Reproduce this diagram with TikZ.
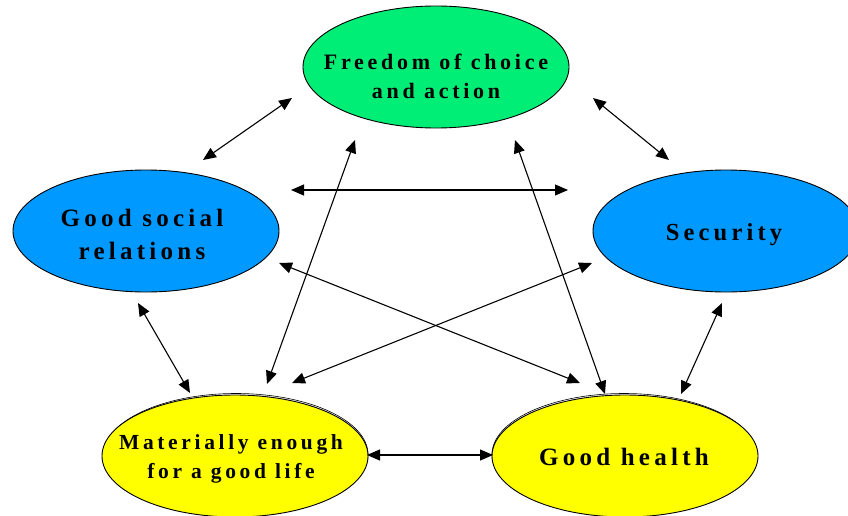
\documentclass[tikz,border=0pt]{standalone}
\usepackage{fontspec}
\setmainfont{Liberation Serif}
\newfontfamily\lblfont[LetterSpace=17,Ligatures=NoCommon]{Liberation Serif}
\usetikzlibrary{shapes.geometric,arrows.meta}
\definecolor{fgreen}{RGB}{0,238,118}
\definecolor{sblue}{RGB}{0,153,255}
\definecolor{myyellow}{RGB}{255,255,0}
\begin{document}
\begin{tikzpicture}[x=1pt,y=-1pt,
  oval/.style={ellipse, draw=black, line width=0.9pt, minimum width=266pt, minimum height=122pt, inner sep=0pt},
  lbl/.style={align=center, inner sep=0pt},
  arr/.style={{Triangle[length=13pt,width=11pt]}-{Triangle[length=13pt,width=11pt]}, line width=1.1pt, draw=black}]
\useasboundingbox (0,0) rectangle (848,516);

% faint second outlines behind the yellow ellipses
\node[oval, line width=0.6pt, minimum width=264pt] (Mb) at (236,454.5) {};
\node[oval, line width=0.6pt, minimum width=264pt] (Hb) at (624,454.5) {};

% ellipses
\node[oval, fill=fgreen]   (F)   at (436,67)  {};
\node[oval, fill=sblue]    (S)   at (146,231) {};
\node[oval, fill=sblue]    (Sec) at (726,231) {};
\node[oval, fill=myyellow] (M)   at (235,456) {};
\node[oval, fill=myyellow] (H)   at (625,456) {};

% labels
\node[lbl, font={\lblfont\bfseries\fontsize{22}{29}\selectfont}] (Ft) at ([shift={(0,9)}]F.center) {Freedom of choice\\and action};
\node[lbl, font={\lblfont\bfseries\fontsize{25}{33}\selectfont}] (St) at ([shift={(-4,3)}]S.center) {Good social\\relations};
\node[lbl, font={\lblfont\bfseries\fontsize{24.5}{30}\selectfont}] (Sect) at ([shift={(-2,4)}]Sec.center) {Security};
\node[lbl, font={\lblfont\bfseries\fontsize{21.5}{29}\selectfont}] (Mt) at ([shift={(-4,2.5)}]M.center) {Materially enough\\for a good life};
\node[lbl, font={\lblfont\bfseries\fontsize{25}{30}\selectfont}] (Ht) at ([shift={(-1,1)}]H.center) {Good health};

% connectors
\draw[arr] ([shift={(57,-71)}]S.center)    -- ([shift={(-144,31)}]F.center);
\draw[arr] ([shift={(157,31)}]F.center)    -- ([shift={(-57,-71)}]Sec.center);
\draw[arr] ([shift={(145,-41)}]S.center)   -- ([shift={(-158,-41)}]Sec.center);
\draw[arr] ([shift={(32,-72)}]M.center)    -- ([shift={(-81,73)}]F.center);
\draw[arr] ([shift={(-20,-62)}]H.center)   -- ([shift={(79,73)}]F.center);
\draw[arr] ([shift={(133,32)}]S.center)    -- ([shift={(-45,-73)}]H.center);
\draw[arr] ([shift={(-134,32)}]Sec.center) -- ([shift={(57,-73)}]M.center);
\draw[arr] ([shift={(-8,72)}]S.center)     -- ([shift={(-45,-63)}]M.center);
\draw[arr] ([shift={(-4,72)}]Sec.center)   -- ([shift={(56,-62)}]H.center);
\draw[arr] ([shift={(132,-1)}]M.center)    -- ([shift={(-132,-1)}]H.center);
\end{tikzpicture}
\end{document}
